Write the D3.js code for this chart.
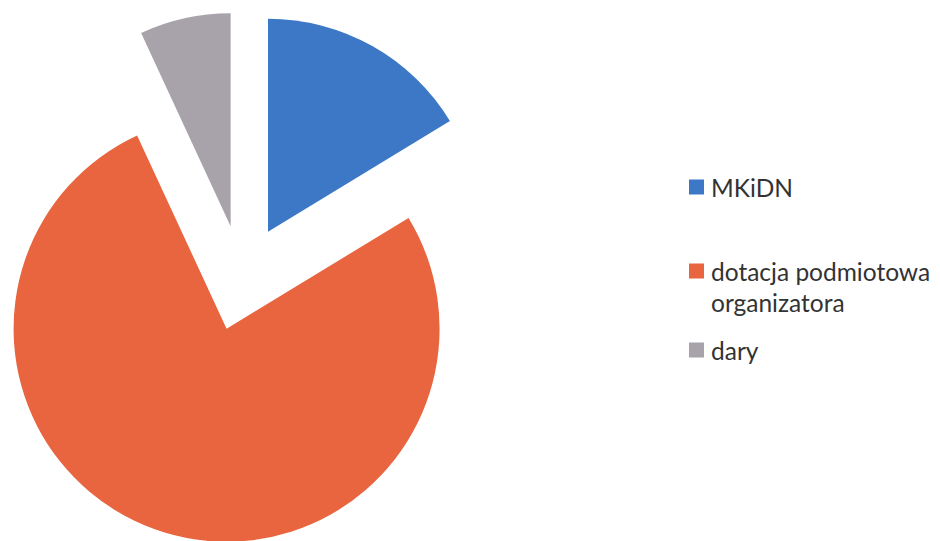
<!DOCTYPE html>
<html>
<head>
<meta charset="utf-8">
<script src="https://cdn.jsdelivr.net/npm/d3@7"></script>
<style>
  html, body { margin: 0; padding: 0; background: #ffffff; }
  svg { display: block; }
</style>
</head>
<body>
<svg id="chart"></svg>
<script>
// chart data
const categories = ["MKiDN", "dotacja podmiotowa organizatora", "dary"];
const values = [16.3, 76.8, 6.9];
const colors = ["#3c78c6", "#e8653f", "#a8a2aa"];
// legend labels, wrapped like the original
const legendLines = [["MKiDN"], ["dotacja podmiotowa", "organizatora"], ["dary"]];

const width = 940;
const height = 541;

const svg = d3.select("#chart")
  .attr("width", width)
  .attr("height", height);

// pie geometry
const cx = 242, cy = 278;
const radius = 213;
const explode = 53;

const pie = d3.pie()
  .sort(null)
  .value(d => d.value)
  .startAngle(0)
  .endAngle(2 * Math.PI);

const arc = d3.arc()
  .innerRadius(0)
  .outerRadius(radius);

const data = categories.map((c, i) => ({ name: c, value: values[i], color: colors[i] }));

const g = svg.append("g")
  .attr("transform", `translate(${cx},${cy})`);

g.selectAll("path")
  .data(pie(data))
  .enter()
  .append("path")
  .attr("d", arc)
  .attr("fill", d => d.data.color)
  .attr("transform", d => {
    const mid = (d.startAngle + d.endAngle) / 2;
    // push each slice out along its middle angle
    return `translate(${explode * Math.sin(mid)},${-explode * Math.cos(mid)})`;
  });

// legend
const legendX = 689;
const legendY = [187, 271, 350];   // centre of the first line of each item
const lineH = 31;

const legend = svg.append("g");

legend.selectAll("rect")
  .data(data)
  .enter()
  .append("rect")
  .attr("x", legendX)
  .attr("y", (d, i) => legendY[i] - 7.5)
  .attr("width", 15)
  .attr("height", 15)
  .attr("fill", d => d.color);

legend.selectAll("text")
  .data(data)
  .enter()
  .append("text")
  .attr("x", legendX + 22)
  .attr("y", (d, i) => legendY[i])
  .attr("dominant-baseline", "central")
  .style("font-family", "Lato, 'Open Sans', sans-serif")
  .style("font-size", "24.5px")
  .style("fill", "#333333")
  .each(function (d, i) {
    d3.select(this).selectAll("tspan")
      .data(legendLines[i])
      .enter()
      .append("tspan")
      .attr("x", legendX + 22)
      .attr("dy", (t, j) => j === 0 ? 0 : lineH)
      .text(t => t);
  });
</script>
</body>
</html>
